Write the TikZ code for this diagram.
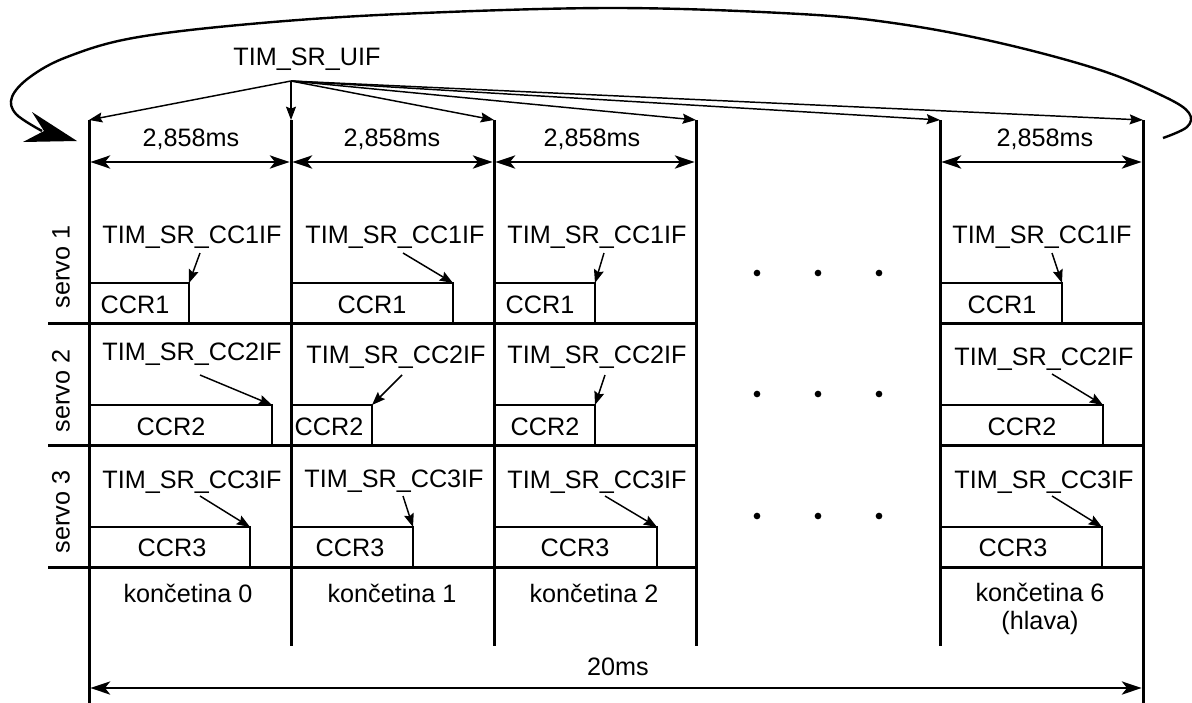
\documentclass[tikz,border=0pt]{standalone}
\usepackage{fontspec}
\setmainfont{Liberation Sans}
\usetikzlibrary{arrows.meta,calc}
\begin{document}
\begin{tikzpicture}[x=0.75pt,y=-0.75pt,
  every node/.style={inner sep=0pt, font=\fontsize{18.9pt}{21pt}\selectfont},
  thickln/.style={line width=2.25pt},
  thinln/.style={line width=1.1pt},
  dimarr/.style={line width=1.1pt, {Stealth[length=15pt,width=10pt,inset=4pt]}-{Stealth[length=15pt,width=10pt,inset=4pt]}},
  ptr/.style={line width=1.1pt, -{Stealth[length=10pt,width=7.5pt,inset=1.5pt]}},
  lbl/.style={anchor=base},
  dot/.style={fill=black}
]
\useasboundingbox (0,0) rectangle (1192,703);

% column tops and bottoms
\coordinate (t0) at (89,120);  \coordinate (b0) at (89,703);
\coordinate (t1) at (291,120); \coordinate (b1) at (291,646);
\coordinate (t2) at (494,120); \coordinate (b2) at (494,646);
\coordinate (t3) at (696,120); \coordinate (b3) at (696,646);
\coordinate (t4) at (940,120); \coordinate (b4) at (940,646);
\coordinate (t5) at (1143,120);\coordinate (b5) at (1143,703);
\foreach \i in {0,...,5} { \draw[thickln] (t\i) -- (b\i); }

% horizontal separators
\foreach \y/\n in {323/a,445/b,567/c} {
  \coordinate (hl\n) at (48,\y);  \coordinate (hm\n) at (696,\y);
  \coordinate (hr\n) at (940,\y); \coordinate (he\n) at (1143,\y);
  \draw[thickln] (hl\n) -- (hm\n);
  \draw[thickln] (hr\n) -- (he\n);
}

% TIM_SR_UIF fan
\node[lbl] (uiftxt) at (307,65) {TIM\_SR\_UIF};
\coordinate (uif) at (291,81);
\foreach \i in {0,...,5} { \draw[ptr] (uif) -- (t\i); }

% period dimension arrows
\foreach \a/\b/\x/\n in {0/1/191/p0, 1/2/392/p1, 2/3/592/p2, 4/5/1045/p5} {
  \coordinate (d\n l) at ($(t\a)+(0,42)$);
  \coordinate (d\n r) at ($(t\b)+(0,42)$);
  \draw[dimarr, shorten <=1pt, shorten >=1pt] (d\n l) -- (d\n r);
  \node[lbl] (l\n) at (\x,146) {2,858ms};
}

% servo labels
\node[rotate=90] (s1) at (61,267) {servo 1};
\node[rotate=90] (s2) at (61,391) {servo 2};
\node[rotate=90] (s3) at (61,512) {servo 3};

% cells
\foreach \n/\r/\lx/\ly/\cx/\cy/\L/\lev/\px/\bot/\ax/\ay in {
  a0/1/192/243/135/313/89/283/189/323/200/253,
  a1/1/395/243/372/313/291/283/453/323/403/253,
  a2/1/597/243/540/313/494/283/595/323/604/253,
  a5/1/1042/243/1002/313/940/283/1062/323/1052/253,
  b0/2/192/360/171/435/89/405/272/445/200/375,
  b1/2/396/363/329/435/291/405/372/445/402/375,
  b2/2/597/363/545/435/494/405/595/445/605/375,
  b5/2/1044/365/1022/435/940/405/1103/445/1052/374,
  c0/3/192/488/172/556/89/527/250/567/200/496,
  c1/3/394/487/350/556/291/527/413/567/403/496,
  c2/3/597/488/575/556/494/527/657/567/605/496,
  c5/3/1044/488/1013/556/940/527/1102/567/1052/496}
{
  \node[lbl] (f\n) at (\lx,\ly) {TIM\_SR\_CC\r IF};
  \node[lbl] (c\n) at (\cx,\cy) {CCR\r};
  \coordinate (q\n) at (\ax,\ay);
  \coordinate (k\n) at (\px,\lev);
  \draw[thinln] (\L,\lev) -- (k\n) -- (\px,\bot);
  \draw[ptr] (q\n) -- (k\n);
}

% dots
\foreach \yy in {273,394,516} {
  \foreach \xx in {757,818,879} {
    \fill[dot] (\xx,\yy) circle[radius=2.5pt];
  }
}

% limb labels
\node[lbl] (k0) at (188,602) {končetina 0};
\node[lbl] (k1) at (392,602) {končetina 1};
\node[lbl] (k2) at (594,602) {končetina 2};
\node[anchor=north, align=center] (k6) at (1040,583) {končetina 6\\(hlava)};

% 20 ms
\coordinate (tl) at (89,688);
\coordinate (tr) at (1143,688);
\draw[dimarr, shorten <=1pt, shorten >=1pt] (tl) -- (tr);
\node[lbl] (tot) at (618,675) {20ms};

% loop arrow
\draw[line width=1.8pt] plot[smooth, tension=0.6] coordinates {(1163,138) (1187,127) (1189,113) (1165,97) (1100,70) (1000,43) (900,24) (800,14) (613,8) (400,14) (250,24) (133,38) (67,57) (30,77) (12,97) (16,114) (42,131)};
\fill (77,141) -- (32,112) -- (44,131) -- (23,142) -- cycle;
\end{tikzpicture}
\end{document}
